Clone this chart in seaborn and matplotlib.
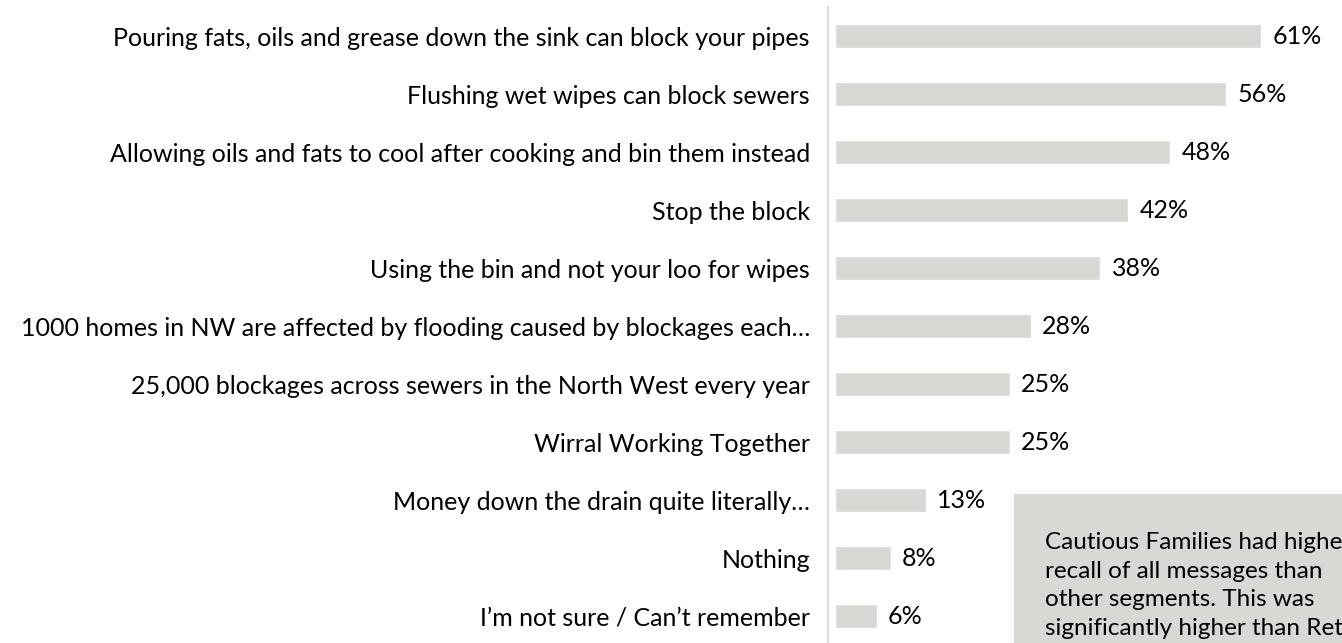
import matplotlib
matplotlib.use('Agg')
import matplotlib.pyplot as plt
import seaborn as sns
import pandas as pd
from matplotlib.patches import Rectangle

messages = [
    'Pouring fats, oils and grease down the sink can block your pipes',
    'Flushing wet wipes can block sewers',
    'Allowing oils and fats to cool after cooking and bin them instead',
    'Stop the block',
    'Using the bin and not your loo for wipes',
    '1000 homes in NW are affected by flooding caused by blockages each\u2026',
    '25,000 blockages across sewers in the North West every year',
    'Wirral Working Together',
    'Money down the drain quite literally\u2026',
    'Nothing',
    'I\u2019m not sure / Can\u2019t remember',
]
recall = [61, 56, 48, 42, 38, 28, 25, 25, 13, 8, 6]
note = ('Cautious Families had higher\n'
        'recall of all messages than\n'
        'other segments. This was\n'
        'significantly higher than Retirees')

df = pd.DataFrame({'message': messages, 'recall': recall})

sns.set_style('white')
plt.rcParams['font.family'] = ['Lato', 'DejaVu Sans']

bar_col = '#D9D8D4'
axis_col = '#D9D9D9'
fs = 18

W, H = 1342, 643
fig = plt.figure(figsize=(W / 100, H / 100), dpi=100)
ax = fig.add_axes([828 / W, -2 / H, 496 / W, 638 / H])

sns.barplot(data=df, x='recall', y='message', orient='h', color=bar_col,
            width=0.43, ax=ax, saturation=1)

ax.set_xlim(-1, 70)
ax.set_ylim(10.5, -0.5)
ax.set_xlabel('')
ax.set_ylabel('')
ax.set_xticks([])

for s in ['top', 'right', 'bottom']:
    ax.spines[s].set_visible(False)
ax.spines['left'].set_color(axis_col)
ax.spines['left'].set_linewidth(1.5)

ax.tick_params(axis='y', which='major', length=0, pad=13, labelsize=fs,
               labelcolor='black')
ax.set_yticks([i - 0.5 for i in range(len(messages) + 1)], minor=True)
ax.tick_params(axis='y', which='minor', length=5, width=1.5, color=axis_col)

for i, v in enumerate(recall):
    ax.annotate(f'{v}%', (v, i), xytext=(8, 0), textcoords='offset points',
                va='center', ha='left', fontsize=fs, color='black')

# note box, cropped by the right and bottom edge like the original slide
fig.patches.append(Rectangle((1014 / W, 0), 1, 1 - 494 / H,
                             transform=fig.transFigure, facecolor=bar_col,
                             edgecolor='none', zorder=0))
fig.text(1045 / W, 1 - 532 / H, note, ha='left', va='top', fontsize=17.5,
         color='black', linespacing=1.45)

fig.savefig('out.png', dpi=100)
